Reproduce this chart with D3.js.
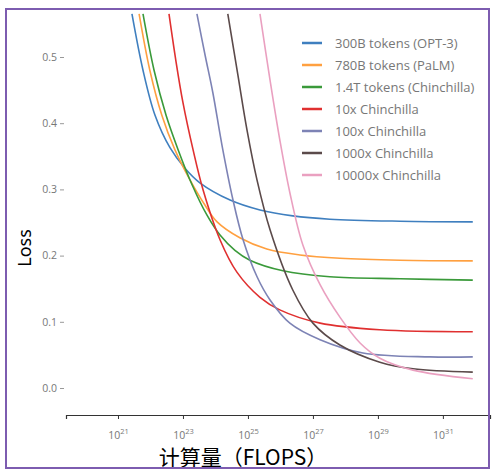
<!DOCTYPE html>
<html>
<head>
  <meta charset="utf-8">
  <script src="https://d3js.org/d3.v7.min.js"></script>
  <style>
    body { margin: 0; background: #fff; }
    .axis text { font-family: "Open Sans", sans-serif; font-size: 10.5px; fill: #777; }
  </style>
</head>
<body>
  <div id="chart"></div>
  <script>
    // 数据：横轴为 log10(FLOPs)，纵轴为 Loss
    const seriesNames = ["300B tokens (OPT-3)", "780B tokens (PaLM)", "1.4T tokens (Chinchilla)",
      "10x Chinchilla", "100x Chinchilla", "1000x Chinchilla", "10000x Chinchilla"];
    const seriesColors = ["#3f7fbf", "#ffa040", "#3a9a3a", "#e03030", "#7d83b5", "#5b4a4a", "#eaa0c0"];

    const opt3 = [[21.43,0.565],[21.77,0.480],[22.14,0.412],[22.60,0.363],[23.06,0.332],[23.52,0.310],
      [24.45,0.284],[25.37,0.269],[26.38,0.260],[27.52,0.255],[29.68,0.252],[31.92,0.251]];
    const palm = [[21.65,0.565],[21.98,0.480],[22.35,0.412],[22.75,0.360],[23.22,0.314],[23.68,0.276],
      [24.05,0.251],[24.75,0.227],[25.58,0.210],[26.60,0.201],[27.83,0.196],[29.68,0.193],[31.92,0.192]];
    const chinchilla = [[21.77,0.565],[22.11,0.480],[22.48,0.412],[22.85,0.360],[23.28,0.307],[23.74,0.261],
      [24.14,0.231],[24.60,0.208],[25.06,0.193],[26.08,0.177],[27.52,0.168],[29.68,0.165],[31.92,0.163]];
    const x10 = [[22.57,0.565],[22.78,0.495],[23.00,0.431],[23.31,0.360],[23.62,0.299],[24.14,0.224],
      [24.66,0.175],[25.37,0.137],[25.98,0.118],[27.22,0.098],[29.06,0.088],[31.92,0.085]];
    const x100 = [[23.43,0.565],[23.68,0.503],[23.92,0.446],[24.20,0.367],[24.54,0.284],[24.85,0.224],
      [25.28,0.168],[25.68,0.133],[26.29,0.098],[27.22,0.073],[28.54,0.053],[30.60,0.047],[31.92,0.047]];
    const x1000 = [[24.38,0.565],[24.69,0.473],[24.97,0.390],[25.28,0.314],[25.68,0.239],[26.38,0.148],
      [27.00,0.098],[27.83,0.065],[29.06,0.039],[30.08,0.029],[31.92,0.024]];
    const x10000 = [[25.37,0.565],[25.68,0.465],[25.98,0.375],[26.29,0.295],[26.69,0.216],[27.22,0.156],
      [27.83,0.107],[28.45,0.068],[29.06,0.045],[30.08,0.027],[31.92,0.014]];
    const allSeries = [opt3, palm, chinchilla, x10, x100, x1000, x10000];

    const xTickExps = [21, 23, 25, 27, 29, 31];
    const yTicks = [0.0, 0.1, 0.2, 0.3, 0.4, 0.5];

    const width = 492, height = 470;

    const x = d3.scaleLinear().domain([19.4, 32.45]).range([66, 490]);
    const y = d3.scaleLinear().domain([0, 0.5]).range([388, 57]);

    const svg = d3.select("#chart").append("svg")
      .attr("width", width).attr("height", height);

    svg.append("defs").append("clipPath").attr("id", "plot")
      .append("rect").attr("x", 66).attr("y", 10).attr("width", 420).attr("height", 400);

    // 曲线
    const line = d3.line().x(d => x(d[0])).y(d => y(d[1])).curve(d3.curveCatmullRom.alpha(0.5));
    svg.append("g").attr("clip-path", "url(#plot)")
      .selectAll("path").data(allSeries).join("path")
      .attr("d", line)
      .attr("fill", "none")
      .attr("stroke", (d, i) => seriesColors[i])
      .attr("stroke-width", 1.6);

    // x 轴
    const xAxis = d3.axisBottom(x).tickValues(xTickExps).tickSize(4).tickFormat("");
    const xg = svg.append("g").attr("class", "axis")
      .attr("transform", "translate(0,415)")
      .call(xAxis);
    xg.select(".domain").attr("stroke", "#333").attr("stroke-width", 1.2);
    xg.selectAll(".tick line").attr("stroke", "#333");
    xg.selectAll(".tick").append("text")
      .attr("y", 24).attr("text-anchor", "middle")
      .each(function(d) {
        const t = d3.select(this);
        t.append("tspan").text("10");
        t.append("tspan").attr("dy", -5).attr("font-size", 7.5).text(d);
      });

    // y 轴
    const yAxis = d3.axisLeft(y).tickValues(yTicks).tickSize(0).tickPadding(9).tickFormat(d3.format(".1f"));
    const yg = svg.append("g").attr("class", "axis")
      .attr("transform", "translate(66,0)")
      .call(yAxis);
    yg.select(".domain").remove();
    yg.selectAll(".tick").append("line")
      .attr("x1", -6).attr("x2", -2).attr("stroke", "#999");

    // 图例
    const legend = svg.append("g").attr("transform", "translate(302,43)");
    const rows = legend.selectAll("g").data(seriesNames).join("g")
      .attr("transform", (d, i) => `translate(0,${i * 22})`);
    rows.append("line").attr("x1", 0).attr("x2", 20)
      .attr("stroke", (d, i) => seriesColors[i]).attr("stroke-width", 2.5);
    rows.append("text").attr("x", 33).attr("dy", "0.35em")
      .attr("font-family", "Open Sans, sans-serif").attr("font-size", 13).attr("fill", "#777")
      .text(d => d);

    // 轴标题
    svg.append("text")
      .attr("transform", "translate(31,248) rotate(-90)")
      .attr("text-anchor", "middle")
      .attr("font-family", "Noto Sans, sans-serif").attr("font-size", 18).attr("fill", "#000")
      .text("Loss");
    svg.append("text")
      .attr("x", 243).attr("y", 465)
      .attr("text-anchor", "middle")
      .attr("font-family", "Noto Sans CJK SC, sans-serif").attr("font-size", 21).attr("fill", "#000")
      .text("计算量（FLOPS）");

    // 外框
    svg.append("rect").attr("x", 6).attr("y", 9).attr("width", 483).attr("height", 459)
      .attr("fill", "none").attr("stroke", "#7d5cb0").attr("stroke-width", 2);
  </script>
</body>
</html>
